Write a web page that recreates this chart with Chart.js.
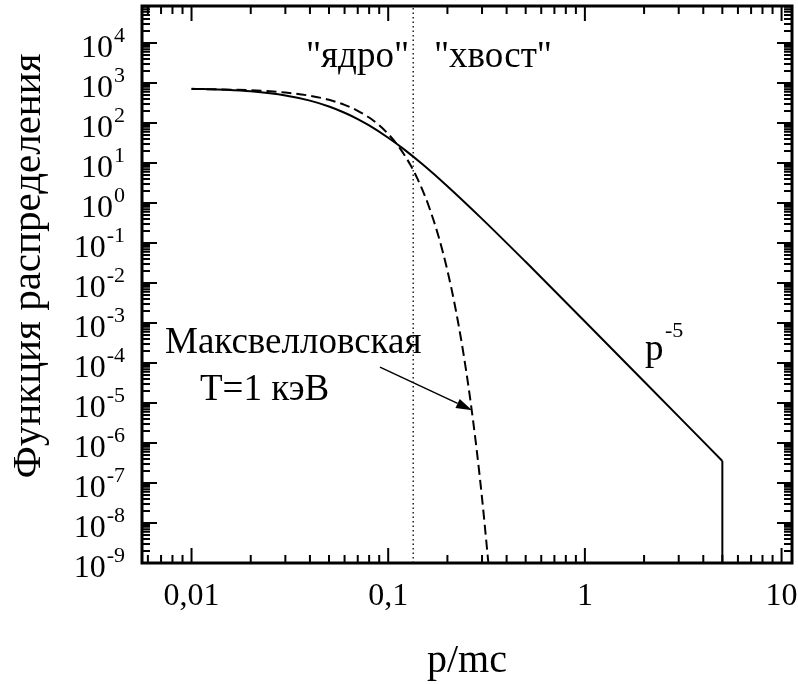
<!DOCTYPE html>
<html>
<head>
<meta charset="utf-8">
<script src="https://cdn.jsdelivr.net/npm/chart.js@4"></script>
<style>
  html, body { margin: 0; background: #fff; }
</style>
</head>
<body>
<canvas id="myChart" width="798" height="684"></canvas>
<script>
// axis ranges
const xMin = 0.0056, xMax = 11.3;
const yMin = 1e-9, yMax = 8.4e4;

// tick labels
const xTickValues = [0.01, 0.1, 1, 10];
const xTickLabels = ['0,01', '0,1', '1', '10'];
const yTickExps = [-9, -8, -7, -6, -5, -4, -3, -2, -1, 0, 1, 2, 3, 4];

// solid curve (with p^-5 tail)
const tailP = [0.01, 0.015, 0.02, 0.03, 0.04, 0.05, 0.06, 0.07, 0.08, 0.1, 0.12, 0.15, 0.2, 0.3, 0.5, 0.7, 1, 2, 3, 5];
const tailF = [720, 675, 618, 487, 362, 258, 180, 125, 86.6, 42.7, 22.2, 9.12, 2.63, 0.401, 0.0338, 6.42e-3, 1.09e-3, 3.44e-5, 4.55e-6, 3.55e-7];
// cut-off at p = 5
const cutP = [5, 5];
const cutF = [3.55e-7, 1e-9];

// Maxwellian, T = 1 keV (dashed)
const maxwP = [0.01, 0.02, 0.03, 0.04, 0.05, 0.06, 0.07, 0.08, 0.09, 0.1, 0.11, 0.12, 0.13, 0.14, 0.15, 0.16, 0.18, 0.2, 0.22, 0.24, 0.26, 0.28, 0.3, 0.32, 0.323];
const maxwF = [711, 657, 577, 480, 379, 284, 202, 137, 87.5, 53.1, 30.7, 16.8, 8.72, 4.30, 2.01, 0.891, 0.150, 0.0205, 2.27e-3, 2.04e-4, 1.48e-5, 8.75e-7, 4.2e-8, 1.63e-9, 1e-9];

// core / tail boundary (dotted)
const boundP = [0.134, 0.134];
const boundF = [yMin, yMax];

// arrow to the Maxwellian
const arrowFrom = {p: 0.0908, f: 7.9e-5};
const arrowTo = {p: 0.267, f: 6.6e-6};

const pts = (xs, ys) => xs.map((v, i) => ({x: v, y: ys[i]}));
const serif = '"Liberation Serif", "Times New Roman", serif';

const framePlugin = {
  id: 'frame',
  afterDatasetsDraw(chart) {
    const {ctx, chartArea: a, scales: {x, y}} = chart;
    ctx.save();
    ctx.strokeStyle = '#000';
    ctx.fillStyle = '#000';

    // inward ticks on all four sides
    ctx.lineWidth = 2;
    ctx.beginPath();
    for (let e = -3; e <= 1; e++) {
      for (let m = 1; m <= 9; m++) {
        const v = m * Math.pow(10, e);
        if (v < xMin || v > xMax) continue;
        const px = x.getPixelForValue(v);
        const len = m === 1 ? 15 : 8;
        ctx.moveTo(px, a.bottom); ctx.lineTo(px, a.bottom - len);
        ctx.moveTo(px, a.top); ctx.lineTo(px, a.top + len);
      }
    }
    for (let e = -9; e <= 4; e++) {
      for (let m = 1; m <= 9; m++) {
        const v = m * Math.pow(10, e);
        if (v < yMin || v > yMax) continue;
        const py = y.getPixelForValue(v);
        const len = m === 1 ? 15 : 8;
        ctx.moveTo(a.left, py); ctx.lineTo(a.left + len, py);
        ctx.moveTo(a.right, py); ctx.lineTo(a.right - len, py);
      }
    }
    ctx.stroke();

    ctx.lineWidth = 3;
    ctx.strokeRect(a.left, a.top, a.right - a.left, a.bottom - a.top);

    // x tick labels
    ctx.font = '32px ' + serif;
    ctx.textAlign = 'center';
    ctx.textBaseline = 'alphabetic';
    xTickValues.forEach((v, i) => {
      ctx.fillText(xTickLabels[i], x.getPixelForValue(v), 605);
    });

    // y tick labels 10^n
    yTickExps.forEach(e => {
      const py = y.getPixelForValue(Math.pow(10, e));
      ctx.textAlign = 'right';
      ctx.font = '22px ' + serif;
      const sup = String(e);
      const w = ctx.measureText(sup).width;
      ctx.fillText(sup, 125, py - 1);
      ctx.font = '32px ' + serif;
      ctx.fillText('10', 125 - w - 1, py + 14);
    });

    // axis titles
    ctx.font = '40px ' + serif;
    ctx.textAlign = 'center';
    ctx.fillText('p/mc', 467, 672);
    ctx.save();
    ctx.translate(40, 266);
    ctx.rotate(-Math.PI / 2);
    ctx.font = '41px ' + serif;
    ctx.fillText('Функция распределения', 0, 0);
    ctx.restore();

    // annotations
    ctx.textAlign = 'left';
    ctx.font = '37px ' + serif;
    ctx.fillText('"ядро"', 306, 67);
    ctx.fillText('"хвост"', 434, 67);
    ctx.fillText('p', 645, 360);
    ctx.fillText('Максвелловская', 165, 353);
    ctx.fillText('T=1 кэВ', 200, 400);
    ctx.font = '22px ' + serif;
    ctx.fillText('-5', 665, 337);

    // arrow
    const x0 = x.getPixelForValue(arrowFrom.p), y0 = y.getPixelForValue(arrowFrom.f);
    const x1 = x.getPixelForValue(arrowTo.p), y1 = y.getPixelForValue(arrowTo.f);
    const ang = Math.atan2(y1 - y0, x1 - x0);
    const hl = 16, hw = 5;
    ctx.lineWidth = 1.5;
    ctx.beginPath();
    ctx.moveTo(x0, y0);
    ctx.lineTo(x1 - hl * Math.cos(ang), y1 - hl * Math.sin(ang));
    ctx.stroke();
    ctx.beginPath();
    ctx.moveTo(x1, y1);
    ctx.lineTo(x1 - hl * Math.cos(ang) + hw * Math.sin(ang), y1 - hl * Math.sin(ang) - hw * Math.cos(ang));
    ctx.lineTo(x1 - hl * Math.cos(ang) - hw * Math.sin(ang), y1 - hl * Math.sin(ang) + hw * Math.cos(ang));
    ctx.closePath();
    ctx.fill();

    ctx.restore();
  }
};

const ctx = document.getElementById('myChart').getContext('2d');
new Chart(ctx, {
  type: 'scatter',
  data: {
    datasets: [
      {data: pts(tailP, tailF), borderColor: '#000', borderWidth: 2, cubicInterpolationMode: 'monotone'},
      {data: pts(cutP, cutF), borderColor: '#000', borderWidth: 2},
      {data: pts(maxwP, maxwF), borderColor: '#000', borderWidth: 2, borderDash: [10, 5], cubicInterpolationMode: 'monotone'},
      {data: pts(boundP, boundF), borderColor: '#000', borderWidth: 1.3, borderDash: [1.5, 3]}
    ].map(d => Object.assign({showLine: true, pointRadius: 0, pointHoverRadius: 0, fill: false}, d))
  },
  options: {
    responsive: false,
    animation: false,
    events: [],
    layout: {padding: {left: 142, right: 6, top: 6, bottom: 121}},
    plugins: {legend: {display: false}, tooltip: {enabled: false}},
    scales: {
      x: {type: 'logarithmic', min: xMin, max: xMax, display: false},
      y: {type: 'logarithmic', min: yMin, max: yMax, display: false}
    }
  },
  plugins: [framePlugin]
});
</script>
</body>
</html>
